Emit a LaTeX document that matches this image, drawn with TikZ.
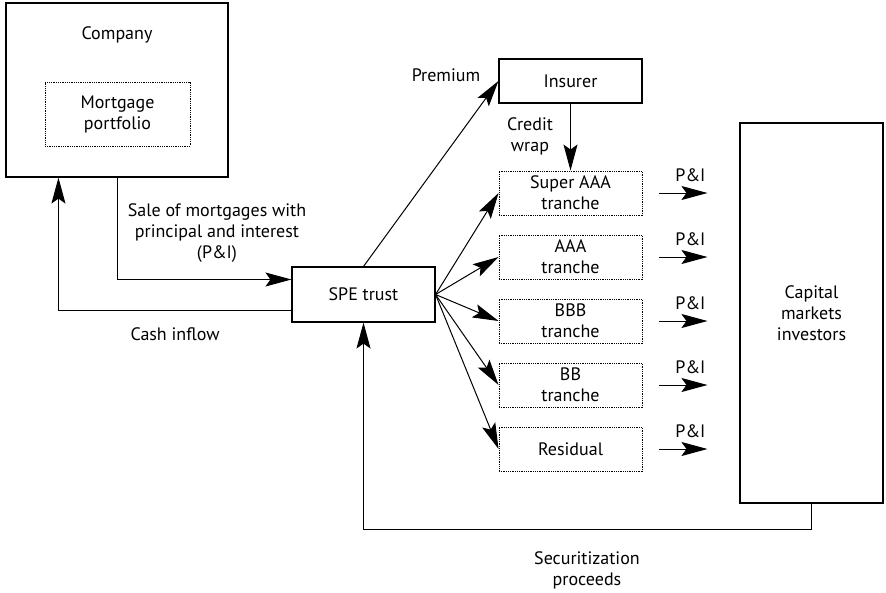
\documentclass[tikz,border=0pt]{standalone}
\usepackage{fontspec}
\setmainfont{PT Sans}
\usetikzlibrary{arrows.meta}
\begin{document}
\begin{tikzpicture}[x=1pt,y=-1pt,
  every node/.style={font=\fontsize{18}{21}\selectfont, align=center, inner sep=0pt},
  solidbox/.style={draw, line width=1.1pt, minimum width=#1},
  dotbox/.style={draw, line width=0.9pt, dash pattern=on 0.9pt off 0.9pt, minimum width=143pt, minimum height=44pt},
  flow/.style={line width=1pt, -{Stealth[length=26pt,width=14pt,inset=5pt]}}]
\useasboundingbox (0,0) rectangle (886,592);

% originator
\node[solidbox=222pt, minimum height=174pt] (company) at (117,90) {};
\node (companytxt) at (117,35) {Company};
\node[draw, line width=0.9pt, dash pattern=on 0.9pt off 0.9pt, minimum width=145pt, minimum height=64pt] (portfolio) at (117.5,114) {Mortgage\\portfolio};

% special purpose entity and insurer
\node[solidbox=143pt, minimum height=55pt] (spe) at (363.5,294.5) {SPE trust};
\node[solidbox=143pt, minimum height=44pt] (insurer) at (570.5,81) {Insurer};

% tranches
\node[dotbox] (super) at (570.5,193) {Super AAA\\tranche};
\node[dotbox] (aaa)   at (570.5,257) {AAA\\tranche};
\node[dotbox] (bbb)   at (570.5,321) {BBB\\tranche};
\node[dotbox] (bb)    at (570.5,385) {BB\\tranche};
\node[dotbox] (resid) at (570.5,449) {Residual};

% investors
\node[solidbox=143pt, minimum height=380pt] (capital) at (811.5,313) {Capital\\markets\\investors};

% sale of mortgages and cash inflow
\draw[flow] (company.south) |- ([yshift=15pt]spe.west);
\draw[flow] ([yshift=-16pt]spe.west) -| ([xshift=53pt]company.south west);
\node (salelbl) at (217,233) {Sale of mortgages with\\principal and interest\\(P\&I)};
\node (cashlbl) at (175,334) {Cash inflow};

% insurance
\draw[flow] (spe.north) -- (insurer.west);
\node (premlbl) at (446,75) {Premium};
\draw[flow] (insurer.south) -- (super.north);
\node (wraplbl) at (530,136) {Credit\\wrap};

% tranching
\foreach \t in {super,aaa,bbb,bb,resid}{
  \draw[flow] (spe.east) -- (\t.west);
  \coordinate (\t-a) at ([xshift=17pt]\t.east);
  \coordinate (\t-b) at ([xshift=65pt]\t.east);
  \draw[flow] (\t-a) -- (\t-b);
  \node[anchor=base] (\t-pi) at ([xshift=48pt,yshift=12pt]\t.east) {P\&I};
}

% proceeds back to the trust
\draw[flow] (capital.south) -- ++(0,26) -| (spe.south);
\node (proclbl) at (587,570) {Securitization\\proceeds};
\end{tikzpicture}
\end{document}
